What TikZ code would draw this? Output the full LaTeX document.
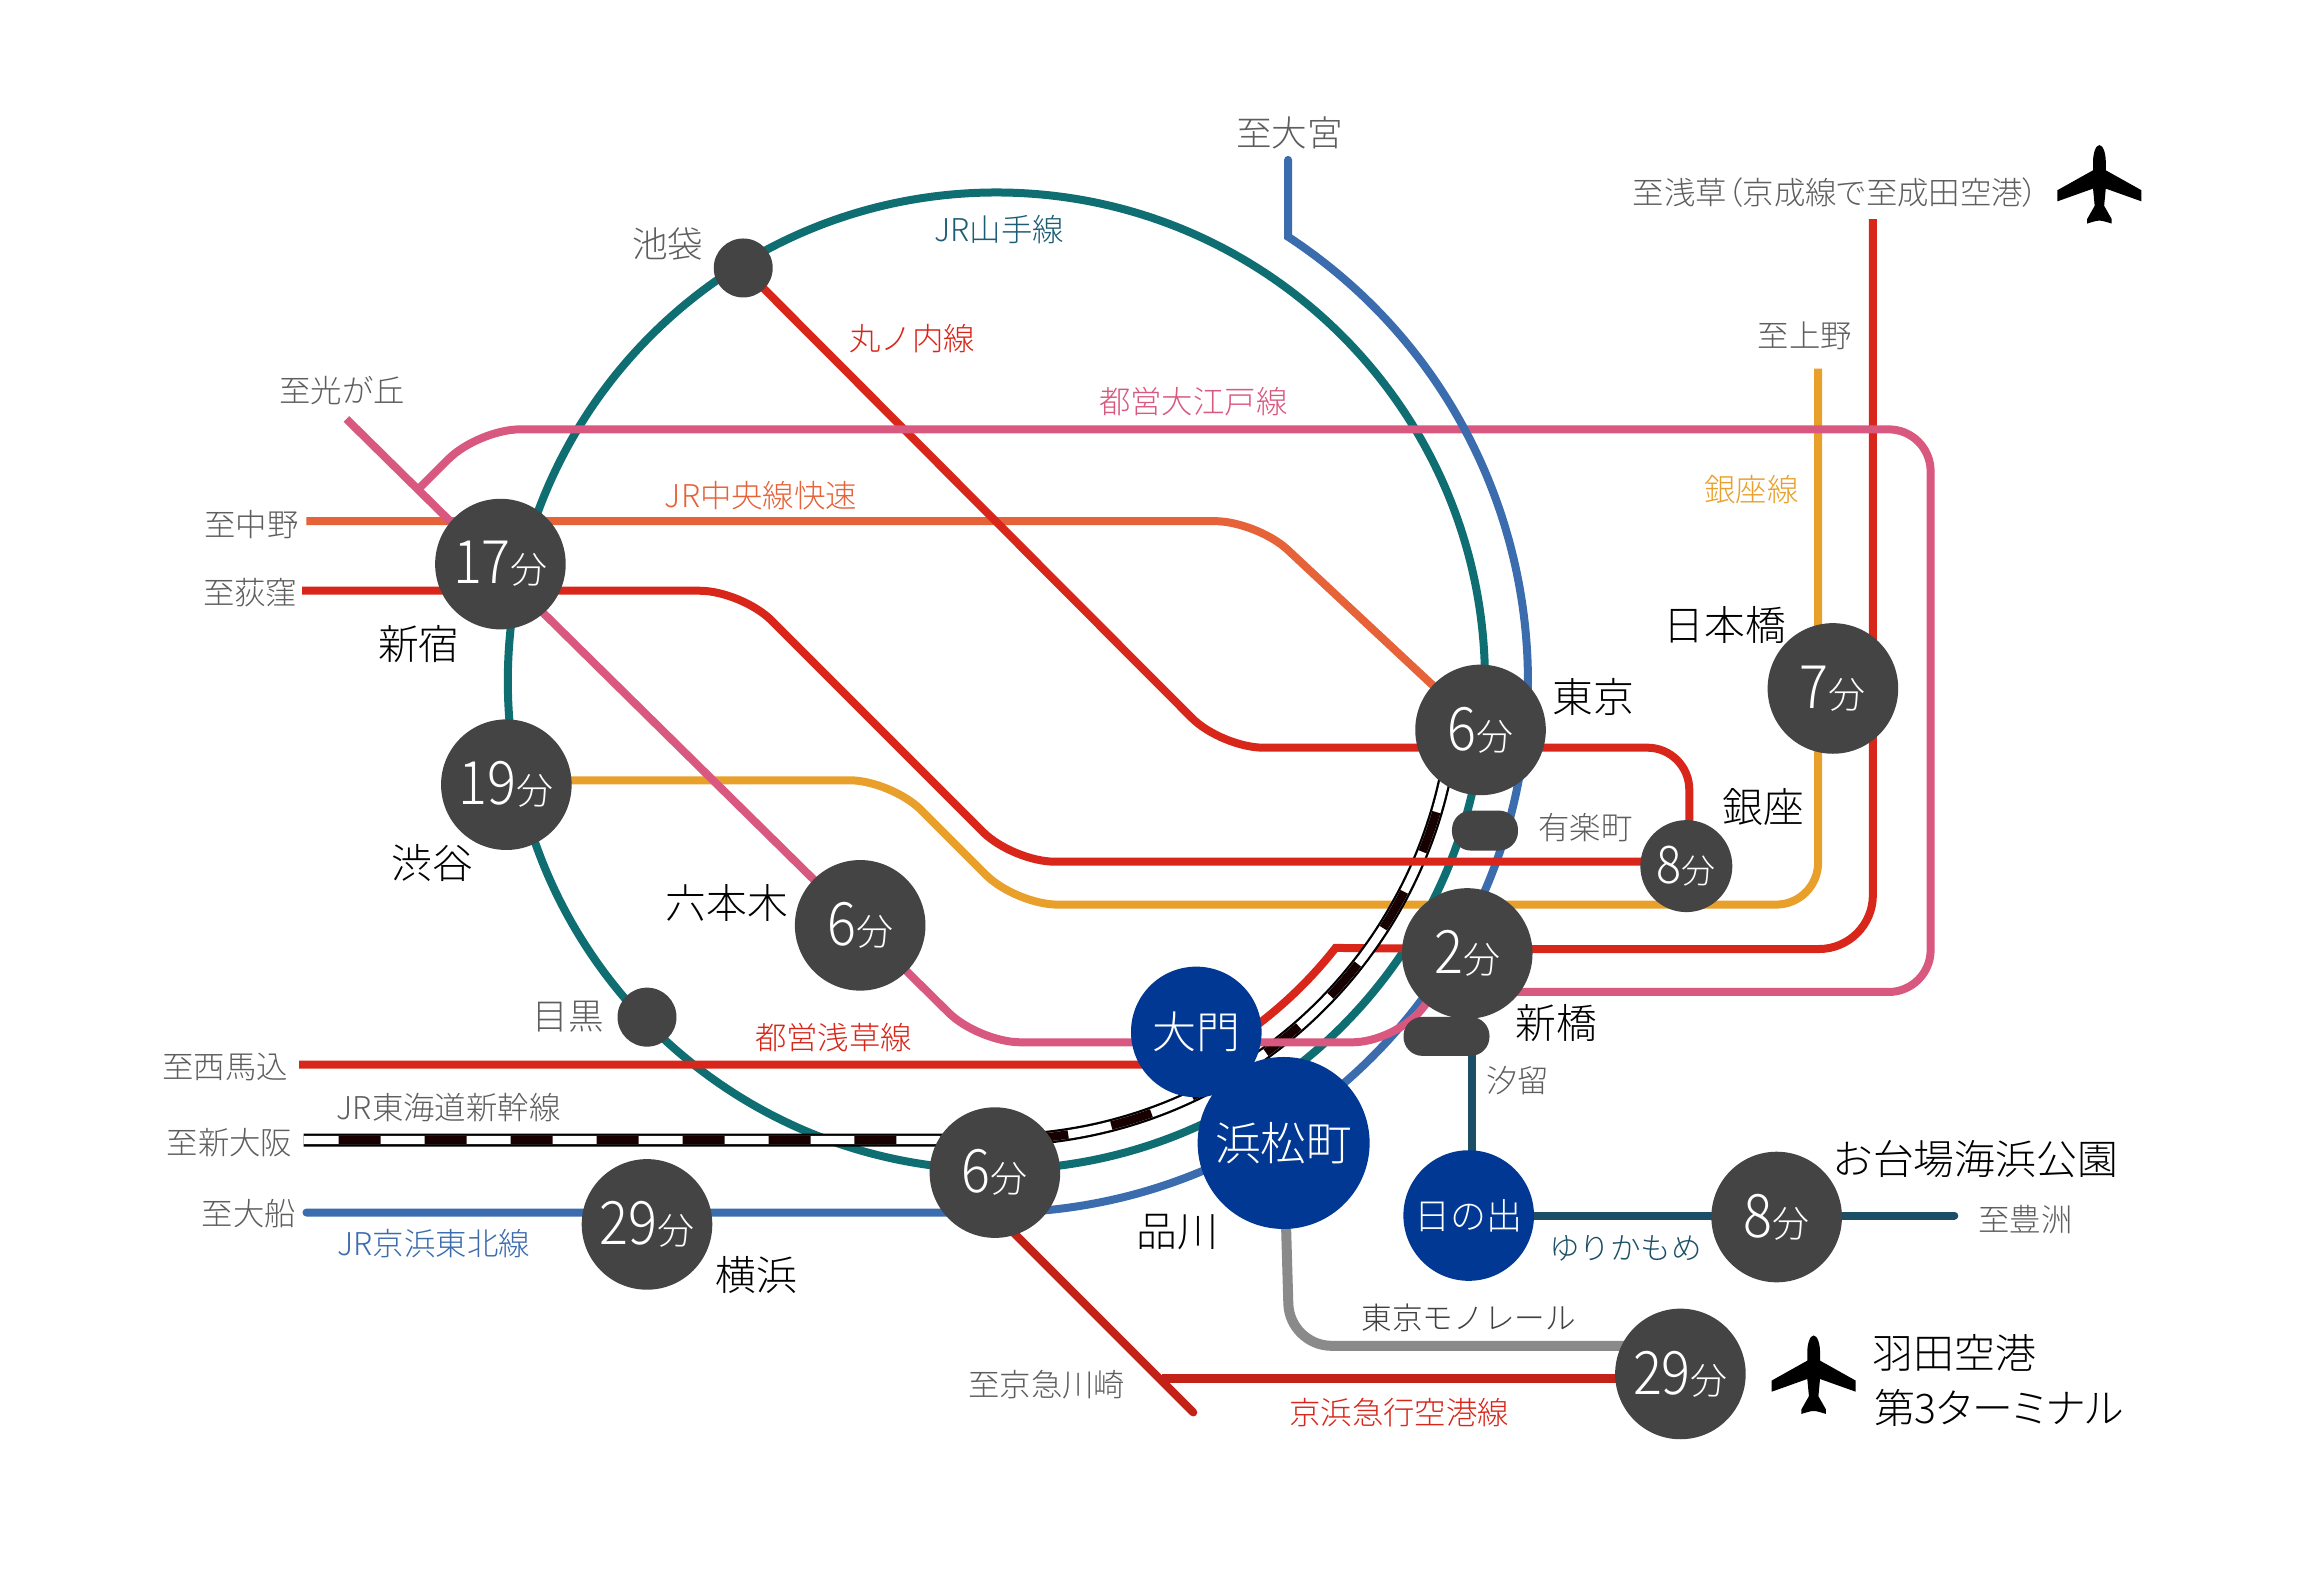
\documentclass[tikz,border=0pt]{standalone}
\usepackage{fontspec}
\setmainfont{Noto Sans CJK JP Light}
\newfontfamily\numfont[FakeStretch=0.9]{Noto Sans CJK JP Light}
\newcommand{\durtext}[1]{{\fontsize{30pt}{30pt}\numfont #1}{\fontsize{18.5pt}{18.5pt}\selectfont 分}}
\definecolor{cred}{HTML}{D8261A}
\definecolor{cpink}{HTML}{D9587F}
\definecolor{cteal}{HTML}{0F6E72}
\definecolor{cblue}{HTML}{3A6CAE}
\definecolor{cginza}{HTML}{E8A02B}
\definecolor{cchuo}{HTML}{E6633A}
\definecolor{cyuri}{HTML}{1C4F66}
\definecolor{cmono}{HTML}{8A8A8A}
\definecolor{ctext}{HTML}{5E5E5E}
\definecolor{cstation}{HTML}{444444}
\definecolor{cnavy}{HTML}{003893}
\pgfdeclarelayer{background}
\pgfsetlayers{background,main}
\tikzset{
  ln/.style={line width=4pt},
  rc/.style={rounded corners=21pt},
  rcb/.style={rounded corners=27pt},
  st/.style={circle,fill=cstation,text=white,inner sep=0pt,minimum size=65.3pt},
  stsmall/.style={circle,fill=cstation,text=white,inner sep=0pt,minimum size=46pt},
  stdot/.style={circle,fill=cstation,inner sep=0pt,minimum size=29.5pt},
  sthome/.style={circle,fill=cnavy,text=white,inner sep=0pt,minimum size=65.3pt},
  lb/.style={inner sep=0pt,text=ctext,font=\fontsize{15.7pt}{18pt}\selectfont},
  lbs/.style={inner sep=0pt,text=ctext,font=\fontsize{15.3pt}{18pt}\selectfont},
  lbb/.style={inner sep=0pt,text=black,font=\fontsize{20.4pt}{24pt}\selectfont},
  planeicon/.pic={
    \fill[black] (0,-26) .. controls (2.6,-26) and (4.3,-20) .. (4.3,-15) -- (4.3,-9)
      -- (28.4,4.5) -- (28.4,12) -- (4.3,3.4) -- (3.2,15) -- (8.3,24) -- (8.3,27)
      .. controls (5,26) and (2,25) .. (0,25) .. controls (-2,25) and (-5,26) .. (-8.3,27)
      -- (-8.3,24) -- (-3.2,15) -- (-4.3,3.4) -- (-28.4,12) -- (-28.4,4.5) -- (-4.3,-9)
      -- (-4.3,-15) .. controls (-4.3,-20) and (-2.6,-26) .. (0,-26) -- cycle;
  }
}
\begin{document}
\begin{tikzpicture}[x=0.7403pt,y=-0.7403pt]
\useasboundingbox (0,0) rectangle (1567,1059.7);
\coordinate (c) at (673,460);
% stations
\node[st] (shinjuku) at (338,381) {\durtext{17}};
\node[st] (shibuya) at (342,530) {\durtext{19}};
\node[st] (roppongi) at (581,625) {\durtext{6}};
\node[st] (tokyo) at (1000,493) {\durtext{6}};
\node[st] (shimbashi) at (991,644) {\durtext{2}};
\node[st] (nihonbashi) at (1238,465) {\durtext{7}};
\node[stsmall] (ginza) at (1139,585) {{\fontsize{26pt}{26pt}\numfont 8}{\fontsize{17pt}{17pt}\selectfont 分}};
\node[st] (shinagawa) at (672,792) {\durtext{6}};
\node[st] (yokohama) at (437,827) {\durtext{29}};
\node[st] (odaiba) at (1200,822) {\durtext{8}};
\node[st] (haneda) at (1135,928) {\durtext{29}};
\node[stdot] (ikebukuro) at (502,181) {};
\node[stdot] (meguro) at (437,687) {};
\node[sthome] (daimon) at (808,697) {\fontsize{22pt}{22pt}\selectfont 大門};
\node[sthome,minimum size=86pt] (hamamatsu) at (867,772) {\fontsize{22.8pt}{22.8pt}\selectfont 浜松町};
\node[sthome] (hinode) at (992,821) {\fontsize{18pt}{18pt}\selectfont 日の出};
\node[fill=cstation,rounded corners=9.5pt,minimum width=33pt,minimum height=20pt,inner sep=0pt] (yurakucho) at (1003,561) {};
\node[fill=cstation,rounded corners=9.5pt,minimum width=43pt,minimum height=19.5pt,inner sep=0pt] (shiodome) at (977,700) {};
% free ends
\coordinate (toomiya) at (870,108);
\coordinate (tonarita) at (1265,148);
\coordinate (toueno) at (1228,249);
\coordinate (tohikari) at (234,283);
\coordinate (tonakano) at (207,352);
\coordinate (toogikubo) at (204,399);
\coordinate (tomagome) at (202,719);
\coordinate (toosaka) at (205,770);
\coordinate (toofuna) at (207,819);
\coordinate (totoyosu) at (1320,821);
\coordinate (tokawasaki) at (806,954);
\coordinate (kawastart) at (655,803);
\coordinate (junction) at (785,931);
\begin{pgfonlayer}{background}
\fill[white] (0,0) rectangle (1567,1059.7);
% Yamanote
\draw[ln,cteal] (c) circle[radius=330];
% Ginza
\draw[ln,cginza,rc] (shibuya.center) -- (341,527) -- (602,527) -- (686,611) -- (1228,611) -- (toueno);
% Chuo
\draw[ln,cchuo,rc] (tonakano) -- (849,352) -- (tokyo.center);
% Marunouchi
\draw[ln,cred,rc] (ikebukuro.center) -- (825,505) -- (1141,505) -- (1141,585);
% Asakusa
\draw[ln,cred] (tomagome) -- (775,719) -- ([shift={(60:291.5)}]c) arc[start angle=60,end angle=38.2,radius=291.5] -- (991,641);
\draw[ln,cred,rcb] (991,641) -- (1265,641) -- (tonarita);
% Oedo loop
\draw[ln,cpink,rc] (283,330) -- (323,290) -- (1304,290) -- (1304,670) -- (991,670);
% Keihin-Tohoku
\draw[ln,cblue,line cap=round] (toomiya) -- ([shift={(-56.7:359)}]c) arc[start angle=-56.7,end angle=90,radius=359] -- (toofuna);
% Shinkansen
\draw[line width=6.5pt,black] (toosaka) -- (c |- toosaka) arc[start angle=90,end angle=8,radius=310];
\draw[line width=4.2pt,white] (toosaka) -- (c |- toosaka) arc[start angle=90,end angle=8,radius=310];
\draw[line width=4.2pt,black!90!red,dash pattern=on 21pt off 22pt,dash phase=25.5pt] (toosaka) -- (c |- toosaka) arc[start angle=90,end angle=8,radius=310];
% Marunouchi branch
\draw[ln,cred,rc] (toogikubo) -- (501,399) -- (684,582) -- (1139,582);
% Oedo
\draw[ln,cpink,rc] (tohikari) -- (roppongi.center) -- (661,704) -- (942,704) -- (shimbashi.center);
% Yurikamome
\draw[ln,cyuri] (994,644) -- (994,821);
\draw[ln,cyuri,line cap=round] (hinode.center) -- (totoyosu);
% Monorail
\draw[line width=5pt,cmono,rc] (hamamatsu.center) -- (871,909) -- (1135,909);
% Keikyu
\draw[line width=4.5pt,cred!90!black] (junction) -- (haneda.center |- junction);
\draw[ln,cred!90!black,line cap=round] (kawastart) -- (tokawasaki);
\end{pgfonlayer}
% planes
\pic at (1418,124) {planeicon};
\pic at (1225,928) {planeicon};
% labels
\node[lb,font=\fontsize{17.8pt}{20pt}\selectfont] (l1) at (871,90) {至大宮};
\node[lb] (l2) at (1240,130) {\addfontfeature{RawFeature=+palt}至浅草（京成線で至成田空港）};
\node[lb] (l3) at (1219,227) {至上野};
\node[lb,text=cginza] (l4) at (1183,331) {銀座線};
\node[lb,text=cteal!60!cblue!85!black] (l5) at (675,155) {JR山手線};
\node[lb,font=\fontsize{17.8pt}{20pt}\selectfont] (l6) at (451,165) {池袋};
\node[lb,text=cred] (l7) at (616,229) {丸ノ内線};
\node[lb] (l8) at (231,264) {至光が丘};
\node[lb,text=cpink] (l9) at (806,271) {都営大江戸線};
\node[lb,text=cchuo] (l10) at (514,335) {JR中央線快速};
\node[lb] (l11) at (170,354) {至中野};
\node[lb] (l12) at (169,400) {至荻窪};
\node[lbb] (l13) at (283,435) {新宿};
\node[lbb] (l14) at (1165,422) {日本橋};
\node[lbb] (l15) at (1076,471) {東京};
\node[lbb] (l16) at (1191,545) {銀座};
\node[lb] (l17) at (1071,559) {有楽町};
\node[lbb] (l18) at (292,583) {渋谷};
\node[lbb] (l19) at (491,610) {六本木};
\node[lb,font=\fontsize{17.8pt}{20pt}\selectfont] (l20) at (384,687) {目黒};
\node[lbb] (l21) at (1051,691) {新橋};
\node[lb] (l22) at (1025,730) {汐留};
\node[lb,text=cred] (l23) at (563,701) {都営浅草線};
\node[lb] (l24) at (152,721) {至西馬込};
\node[lb] (l25) at (303,748) {JR東海道新幹線};
\node[lb] (l26) at (155,772) {至新大阪};
\node[lb] (l27) at (168,820) {至大船};
\node[lb,text=cblue] (l28) at (293,840) {JR京浜東北線};
\node[lbb] (l29) at (511,861) {横浜};
\node[lbb] (l30) at (795,832) {品川};
\node[lbb] (l31) at (1334,783) {お台場海浜公園};
\node[lb] (l32) at (1368,824) {至豊洲};
\node[lbs,text=cyuri] (l33) at (1098,843) {ゆりかもめ};
\node[lbs,text=black!75] (l34) at (992,890) {東京モノレール};
\node[lb] (l35) at (707,935) {至京急川崎};
\node[lb,text=cred] (l36) at (945,954) {京浜急行空港線};
\node[lbb] (l37) at (1320,914) {羽田空港};
\node[lbb] (l38) at (1350,951) {\addfontfeature{RawFeature=+palt}第3ターミナル};
\end{tikzpicture}
\end{document}
